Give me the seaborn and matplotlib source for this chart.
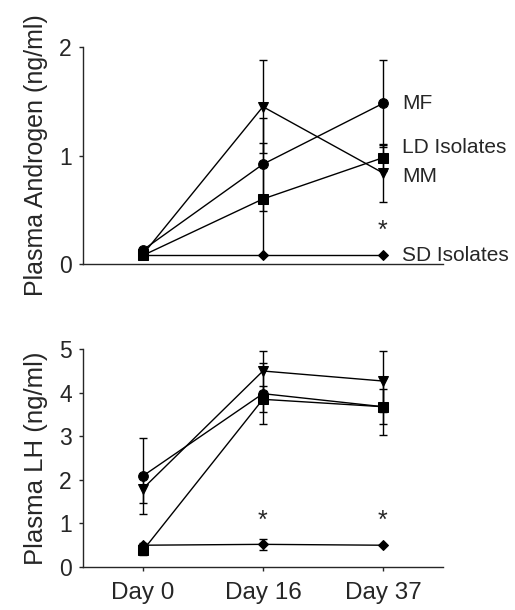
"""Plasma androgen and LH over time for four housing groups."""

import matplotlib

matplotlib.use("Agg")
import matplotlib.pyplot as plt
import pandas as pd
import seaborn as sns

days = ["Day 0", "Day 16", "Day 37"]
groups = ["MF", "LD Isolates", "MM", "SD Isolates"]
markers = {"MF": "o", "LD Isolates": "s", "MM": "v", "SD Isolates": "D"}
marker_sizes = {"MF": 7, "LD Isolates": 6.5, "MM": 7, "SD Isolates": 5.5}

# top panel: plasma androgen (ng/ml)
androgen_mf = [0.13, 0.92, 1.48]
androgen_ld = [0.08, 0.60, 0.98]
androgen_mm = [0.09, 1.45, 0.84]
androgen_sd = [0.08, 0.08, 0.08]
androgen_err_mf = [0.02, 0.43, 0.40]
androgen_err_ld = [0.02, 0.52, 0.12]
androgen_err_mm = [0.02, 0.43, 0.27]
androgen_err_sd = [0.0, 0.0, 0.0]
androgen_labels_y = [1.48, 1.07, 0.81, 0.08]

# bottom panel: plasma LH (ng/ml)
lh_mf = [2.09, 3.98, 3.68]
lh_ld = [0.38, 3.85, 3.68]
lh_mm = [1.80, 4.50, 4.27]
lh_sd = [0.50, 0.52, 0.50]
lh_err_mf = [0.88, 0.70, 0.65]
lh_err_ld = [0.10, 0.30, 0.40]
lh_err_mm = [0.33, 0.46, 0.70]
lh_err_sd = [0.05, 0.13, 0.0]

star_androgen = [(2, 0.31)]
star_lh = [(1, 1.05), (2, 1.05)]


def make_frame(values, errors):
    rows = []
    for g, vals, errs in zip(groups, values, errors):
        for i, (v, e) in enumerate(zip(vals, errs)):
            rows.append({"group": g, "x": i, "value": v, "err": e})
    return pd.DataFrame(rows)


def draw_panel(ax, df):
    for g in groups:
        sub = df[df["group"] == g]
        ax.errorbar(sub["x"], sub["value"], yerr=sub["err"], fmt="none",
                    ecolor="black", elinewidth=1, capsize=3, capthick=1,
                    zorder=2)
        sns.lineplot(data=sub, x="x", y="value", color="black",
                     marker=markers[g], markersize=marker_sizes[g],
                     markeredgecolor="black", linewidth=1, ax=ax, zorder=3)
    ax.set_xlim(-0.5, 2.5)
    ax.set_xlabel("")
    sns.despine(ax=ax)
    ax.spines["left"].set_linewidth(1)
    ax.spines["bottom"].set_linewidth(1)
    ax.tick_params(axis="y", labelsize=16.5, length=3, width=1, pad=5)


sns.set_style("ticks")
plt.rcParams["font.family"] = ["Liberation Sans", "DejaVu Sans"]

fig = plt.figure(figsize=(5.15, 6.1), dpi=100)
ax_top = fig.add_axes([0.161, 0.567, 0.699, 0.356])
ax_bot = fig.add_axes([0.161, 0.0705, 0.699, 0.357])

df_and = make_frame([androgen_mf, androgen_ld, androgen_mm, androgen_sd],
                    [androgen_err_mf, androgen_err_ld, androgen_err_mm,
                     androgen_err_sd])
draw_panel(ax_top, df_and)
ax_top.set_ylim(0, 2)
ax_top.set_yticks([0, 1, 2])
ax_top.set_xticks([])
ax_top.set_ylabel("Plasma Androgen (ng/ml)", fontsize=18, labelpad=8)
for g, y in zip(groups, androgen_labels_y):
    ax_top.text(2.16, y, g, fontsize=15, va="center", ha="left",
                clip_on=False)
for x, y in star_androgen:
    ax_top.text(x, y, "*", fontsize=18, ha="center", va="center")

df_lh = make_frame([lh_mf, lh_ld, lh_mm, lh_sd],
                   [lh_err_mf, lh_err_ld, lh_err_mm, lh_err_sd])
draw_panel(ax_bot, df_lh)
ax_bot.set_ylim(0, 5)
ax_bot.set_yticks(range(6))
ax_bot.set_xticks(range(len(days)))
ax_bot.set_xticklabels(days)
ax_bot.tick_params(axis="x", labelsize=17.5, length=3, width=1, pad=8)
ax_bot.set_ylabel("Plasma LH (ng/ml)", fontsize=18.5, labelpad=8)
for x, y in star_lh:
    ax_bot.text(x, y, "*", fontsize=18, ha="center", va="center")

fig.savefig("out.png", dpi=100)
plt.close(fig)
